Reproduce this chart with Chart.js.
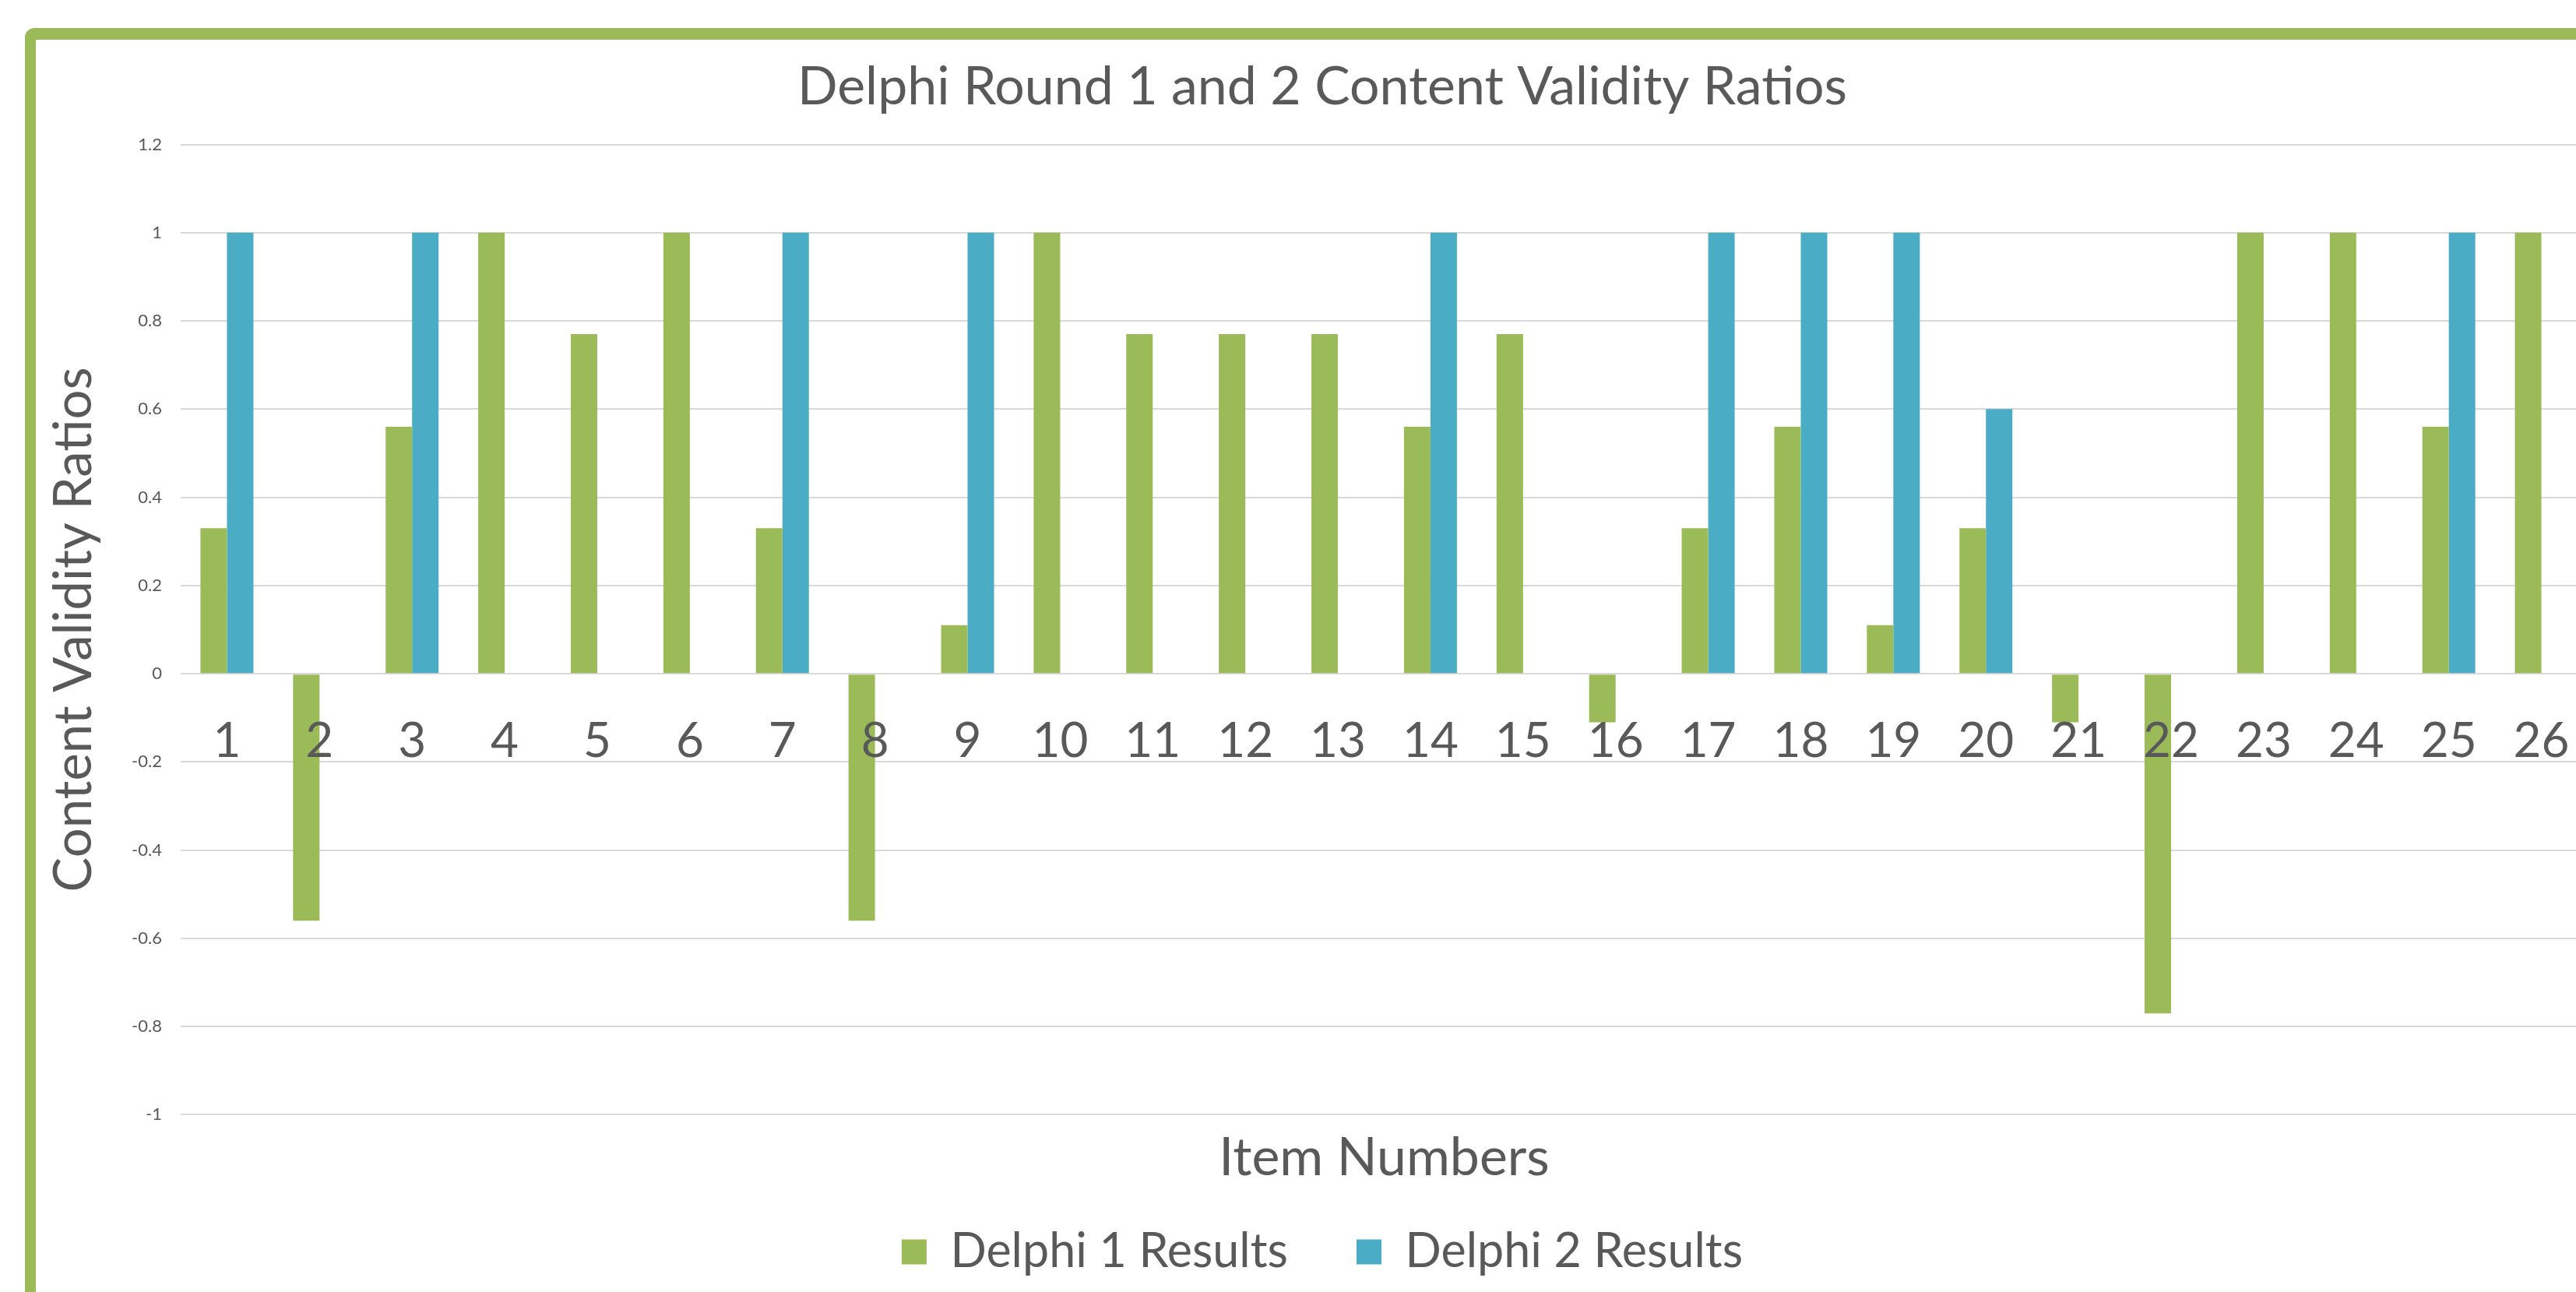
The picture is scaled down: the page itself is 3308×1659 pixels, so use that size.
<!DOCTYPE html>
<html>
<head>
<meta charset="utf-8">
<title>Delphi Round 1 and 2 Content Validity Ratios</title>
<script src="https://cdn.jsdelivr.net/npm/chart.js@4.4.1/dist/chart.umd.min.js"></script>
<style>
    html, body { margin: 0; padding: 0; background: #fff; overflow: hidden; }
    #frame {
        position: absolute; left: 32px; top: 36px;
        width: 3306px; height: 1700px;
        border: 14px solid #9bbb59; border-top-width: 15px; border-radius: 12px;
        background: #fff;
    }
    #box { position: relative; width: 3306px; height: 1597px; }
</style>
</head>
<body>
<div id="frame"><div id="box"><canvas id="cvr_chart"></canvas></div></div>
<script>
// Numéros des items (axe X)
const itemNumbers = ['1','2','3','4','5','6','7','8','9','10','11','12','13',
                     '14','15','16','17','18','19','20','21','22','23','24','25','26'];

// Ratios de validité de contenu, tour 1
const delphi1Values = [0.33, -0.56, 0.56, 1, 0.77, 1, 0.33, -0.56, 0.11, 1, 0.77, 0.77, 0.77,
                       0.56, 0.77, -0.11, 0.33, 0.56, 0.11, 0.33, -0.11, -0.77, 1, 1, 0.56, 1];

// Tour 2 (seulement certains items)
const delphi2Values = [1, null, 1, null, null, null, 1, null, 1, null, null, null, null,
                       1, null, null, 1, 1, 1, 0.6, null, null, null, null, 1, null];

// Graduations de l'axe Y
const yTickValues = [-1, -0.8, -0.6, -0.4, -0.2, 0, 0.2, 0.4, 0.6, 0.8, 1, 1.2];

Chart.defaults.font.family = 'Lato';
Chart.defaults.color = '#595959';

let cvr_chart = document.getElementById('cvr_chart');

new Chart(cvr_chart, {
    type: 'bar',
    data: {
        labels: itemNumbers,
        datasets: [
            {
                label: 'Delphi 1 Results',
                data: delphi1Values,
                backgroundColor: '#9bbb59',
                categoryPercentage: 0.572,
                barPercentage: 1
            },
            {
                label: 'Delphi 2 Results',
                data: delphi2Values,
                backgroundColor: '#4bacc6',
                categoryPercentage: 0.572,
                barPercentage: 1
            }
        ]
    },
    options: {
        responsive: true,
        maintainAspectRatio: false,
        animation: false,
        // padding gauche pour centrer titre et légende comme l'original
        layout: { padding: { left: 27, right: 29 } },
        scales: {
            x: {
                position: { y: 0 }, // étiquettes le long de la ligne zéro
                grid: { display: false, drawTicks: false },
                border: { display: false },
                ticks: { z: 1, font: { size: 62 }, padding: 50, autoSkip: false, maxRotation: 0 }
            },
            y: {
                min: -1,
                max: 1.2,
                grid: { color: '#d9d9d9', lineWidth: 2, drawTicks: false },
                border: { display: false },
                ticks: { font: { size: 22 }, padding: 24, callback: v => String(v) },
                afterBuildTicks: s => { s.ticks = yTickValues.map(v => ({ value: v })); },
                afterFit: s => { s.width = 159; },
                title: {
                    display: true,
                    text: 'Content Validity Ratios',
                    font: { size: 67 },
                    padding: { top: -18, bottom: 0 }
                }
            }
        },
        plugins: {
            title: {
                display: true,
                text: 'Delphi Round 1 and 2 Content Validity Ratios',
                font: { size: 68, weight: 'normal' },
                padding: { top: 20, bottom: 33 }
            },
            subtitle: {
                display: true,
                position: 'bottom',
                fullSize: false,
                weight: 500,
                text: 'Item Numbers',
                font: { size: 68 },
                padding: { top: 15, bottom: -39 }
            },
            legend: {
                position: 'bottom',
                labels: { boxWidth: 32, boxHeight: 32, padding: 88, font: { size: 61 } }
            },
            tooltip: { enabled: false }
        }
    }
});
</script>
</body>
</html>
